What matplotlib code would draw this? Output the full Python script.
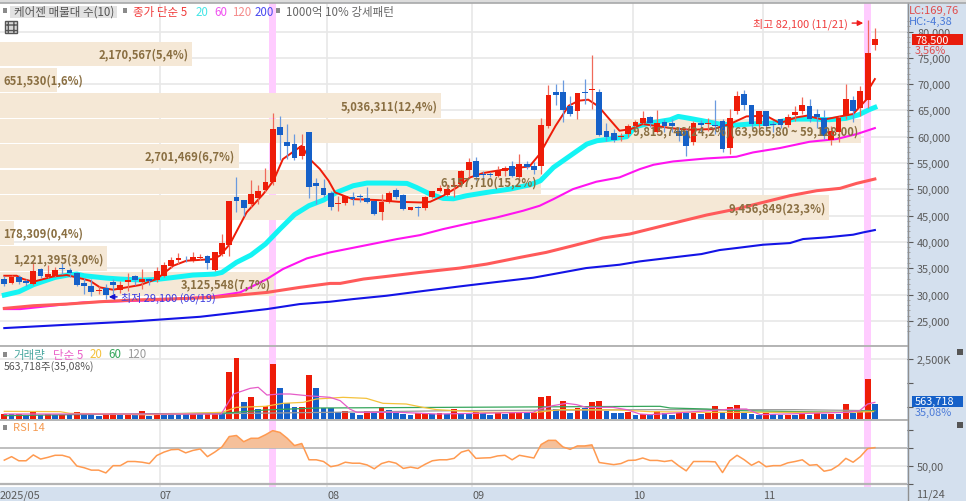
import numpy as np
import matplotlib
matplotlib.use('Agg')
import matplotlib.pyplot as plt
from matplotlib.patches import Rectangle

plt.rcParams['font.family'] = ['Noto Sans CJK KR', 'DejaVu Sans']

# candles, oldest first
opens = [32900, 32100, 33300, 32600, 32000, 34800, 33250, 33550, 34950, 34600, 34000, 32150, 31650, 30700, 31300, 32300, 30800, 32300, 33500, 32450,
         32900, 32800, 33550, 35350, 36600, 36800, 36300, 36850, 37400, 34700, 37700, 39400, 48600, 48000, 47300, 48300, 49850, 51400, 61770, 58900,
         58600, 56400, 60900, 51200, 50250, 49280, 47200, 47320, 48460, 48650, 48330, 47700, 45600, 47630, 49920, 48960, 46120, 46560, 46430, 48590,
         49730, 48960, 50680, 50990, 53720, 55370, 52900, 52900, 52580, 53530, 54360, 52260, 54800, 54360, 54360, 61960, 68430, 68560, 65890, 64940,
         68560, 68800, 68430, 61140, 60630, 60000, 60500, 62090, 62700, 63670, 60950, 62720, 62600, 61130, 61000, 58920, 62600, 62340, 62210, 63040,
         57840, 64810, 68170, 66020, 62400, 64880, 62400, 63350, 62280, 64180, 64880, 65890, 64300, 63540, 59360, 60950, 63860, 66970, 65450, 66970, 77490]
highs = [33450, 33700, 33700, 33000, 36100, 35100, 35600, 35150, 35900, 35100, 34200, 33050, 32950, 31550, 32000, 32950, 32600, 34100, 33700, 34850,
         33050, 35150, 36100, 37050, 37800, 37250, 38100, 37700, 37500, 38150, 41500, 47700, 52300, 48000, 51800, 50800, 54000, 64500, 63860, 62400,
         60500, 60600, 60900, 52100, 51950, 49730, 48780, 48780, 49400, 49100, 50360, 47830, 49100, 49730, 50170, 49100, 46620, 46750, 48780, 49730,
         50800, 50990, 51630, 53720, 55940, 56200, 53400, 53340, 54360, 54360, 55430, 56700, 55310, 55120, 63480, 69890, 70010, 70780, 67800, 68300,
         70960, 75530, 69060, 62600, 61460, 60700, 62410, 63170, 64900, 64000, 65130, 63350, 63350, 61770, 61450, 63040, 63230, 63480, 67030, 63350,
         65260, 68740, 68930, 66020, 64940, 64940, 63040, 63350, 64300, 65890, 67600, 67150, 65260, 65000, 62100, 63990, 70000, 67790, 69600, 82100, 80600]
lows = [31700, 32000, 32000, 31550, 31800, 33100, 33100, 33250, 33900, 33250, 31650, 30100, 29800, 30100, 29100, 30100, 30300, 30750, 31800, 31050,
        31850, 32300, 33250, 35000, 35800, 36100, 36100, 36600, 34850, 34500, 37250, 37250, 45600, 45000, 46600, 47200, 49400, 50900, 55550, 55750,
        55600, 55750, 48300, 47200, 48460, 46050, 45920, 47000, 47000, 47630, 47400, 45100, 44220, 47380, 48140, 46050, 46000, 44970, 46120, 48330,
        49410, 48780, 48460, 50360, 52260, 51820, 51630, 52260, 52260, 52580, 52260, 51630, 53850, 52900, 52900, 61580, 66020, 62720, 64000, 63360,
        66210, 65260, 60060, 59240, 59050, 59240, 59870, 60820, 62400, 61770, 60690, 60820, 60800, 59230, 56380, 58470, 60820, 61130, 60500, 57140,
        56700, 64310, 65130, 61570, 61450, 61130, 60820, 61700, 61770, 63040, 64310, 62720, 61580, 59500, 58500, 59040, 63350, 62720, 63990, 65500, 76400]
closes = [31950, 33250, 32300, 32100, 34400, 33450, 33850, 34700, 34800, 34100, 31900, 31550, 30500, 30900, 29900, 31800, 31900, 32700, 32750, 32900,
          32550, 34400, 35600, 36600, 36850, 36700, 37100, 37100, 36050, 38000, 39800, 47700, 47800, 46400, 49200, 49700, 51450, 61465, 60310, 58150,
          55950, 58300, 50350, 50700, 49000, 46560, 47400, 48650, 48250, 48460, 47500, 45230, 47500, 49280, 48460, 46240, 46620, 46370, 48460, 49600,
          50230, 50040, 50870, 53400, 55120, 52260, 52700, 52700, 53660, 54100, 52580, 54800, 54290, 53720, 62220, 67990, 67990, 65130, 64310, 68300,
          68240, 69060, 60320, 60000, 59360, 60100, 62090, 62720, 63550, 62530, 62700, 61960, 62100, 60060, 58280, 62530, 62210, 62590, 62020, 57650,
          63540, 67670, 66020, 62400, 64810, 62090, 62200, 62280, 63670, 64750, 65950, 63350, 63670, 60060, 61130, 63540, 67160, 64810, 68620, 75840, 78500]

# volume in thousands of shares
volume = [222, 194, 208, 167, 292, 181, 194, 167, 181, 167, 292, 250, 194, 139, 194, 264, 194, 208, 181, 333,
          139, 250, 245, 208, 194, 190, 208, 194, 264, 268, 208, 1945, 2542, 694, 903, 417, 528, 2292, 1278, 653,
          486, 490, 1833, 1278, 472, 470, 278, 347, 236, 181, 347, 264, 500, 389, 236, 222, 153, 236, 240, 194,
          264, 208, 417, 264, 262, 306, 236, 153, 250, 222, 306, 310, 236, 264, 903, 972, 417, 736, 264, 472,
          470, 694, 750, 347, 236, 234, 278, 181, 208, 206, 347, 236, 181, 250, 248, 252, 208, 236, 528, 306,
          486, 569, 236, 194, 153, 264, 194, 181, 183, 181, 236, 181, 236, 222, 224, 222, 639, 264, 278, 1653, 620]

rsi = [56.5, 60.4, 55.8, 55.8, 62.3, 57.7, 59.6, 61.9, 61.9, 59.6, 50, 48.1, 45.4, 45.4, 42.3, 50.4, 50.4, 55, 55, 54.2,
       52.7, 61.6, 65.4, 68.1, 68.5, 64.6, 67.3, 68.9, 60.4, 65.4, 71.2, 82.7, 83.9, 77, 80.8, 80.8, 84.7, 89.3, 87.3, 80.8,
       72.7, 75, 56.9, 56.9, 55, 49.2, 50.8, 54.2, 53.1, 53.1, 51.2, 46.9, 52.7, 55, 53.1, 47.3, 48.8, 47.3, 51.9, 55.8,
       56.9, 56.9, 58.5, 65.4, 67.7, 58.5, 58.9, 59.2, 61.2, 61.9, 56.9, 61.9, 60.4, 58.9, 73.9, 78.5, 78.5, 71.2, 68.5, 72.3,
       72.3, 73.5, 53.9, 52.7, 51.5, 52.7, 56.2, 56.5, 58.9, 56.2, 56.2, 55, 56.2, 50, 44.6, 55, 55, 55, 54.6, 42.7,
       55.8, 61.9, 56.9, 50.8, 55, 49.2, 50.4, 50.4, 53.5, 55, 56.9, 50.8, 51.5, 44.2, 45.8, 50.8, 58.5, 54.2, 60.4, 69.3, 70.4]

# moving averages, as (bar index, value)
ma5_x = [0, 1.7, 2.6, 4, 6.8, 8.6, 10.9, 11.8, 13.2, 15, 16, 18.7, 21, 23.3, 25.1, 28.8, 29.7, 31.1, 33.4, 35.7, 37.1, 38.4, 41, 42.1, 43.5, 44.7,
         45.6, 48, 51.5, 54.3, 57.4, 58.7, 60.5, 62.4, 64.2, 66, 68.7, 72.4, 73.8, 76, 77.8, 79.2, 80.5, 81.9, 83.2, 84.8, 86.4, 88, 92.2, 94.5, 97.7,
         100, 102.3, 105, 106.9, 109.2, 110.6, 112.9, 115.2, 117, 118.9, 119.3, 120]
ma5_y = [33570, 33570, 32940, 32430, 33450, 33700, 32940, 32620, 31350, 30910, 31160, 31800, 32940, 35475, 36425, 36740, 37380, 39600, 45620, 49100, 51640, 55746, 58280, 55746, 53850, 51630,
         49410, 48140, 47950, 47630, 47500, 47630, 48780, 50360, 52260, 53090, 53720, 54360, 56700, 62090, 65890, 66850, 67040, 65770, 63670, 61140, 61460, 62410, 61580, 61330, 61450,
         62400, 63860, 63990, 62590, 63670, 63990, 63230, 63860, 64310, 67160, 69370, 70960]
ma20_x = [0, 2, 4, 7, 9, 10, 11, 14, 16, 19, 21, 23, 26, 29, 30, 32, 34, 36, 38, 40, 42, 44, 45.8, 48.1, 50, 52.7, 55.5, 56.8, 58.7, 60.5, 61.9, 63.7,
          66.5, 69.7, 72.5, 73.9, 75.7, 78, 80.3, 81.7, 83.5, 85.8, 87, 89, 91.8, 92.9, 94.5, 96.7, 98.6, 100.9, 102.7, 105.9, 107.3, 109.1, 111.4, 113.7, 116, 117.8, 119.2, 120]
ma20_y = [29896, 30530, 31860, 33255, 33760, 33890, 33570, 33130, 32940, 32750, 32870, 33190, 33700, 33890, 34200, 36110, 37500, 39600, 42450, 45180, 46890, 47960, 49410, 50680, 51190, 51190, 51120, 50360, 49090, 48270, 48200, 48780,
          49410, 50040, 50870, 51630, 54160, 56380, 58600, 59240, 59550, 60000, 61900, 62590, 63230, 63860, 63480, 62910, 62400, 62210, 62400, 62590, 62970, 63350, 63350, 63230, 63480, 64180, 65130, 65570]
ma60_x = [0, 2.2, 10.9, 21.5, 28.8, 32.5, 36.2, 38.4, 41.7, 44.9, 54.1, 57.3, 60.5, 64.2, 67.9, 71.5, 73.8, 75.7, 78.4, 81.6, 84.8, 87.6, 89.5, 92.2, 96.8, 100.9, 103.2, 106.9, 111, 114.7, 117.5, 120]
ma60_y = [27233, 27233, 28500, 28940, 29640, 30400, 32940, 34840, 36870, 38010, 40535, 41290, 42440, 43580, 44655, 45920, 46875, 48140, 50045, 51440, 52265, 53840, 54670, 55300, 55870, 56190, 57010, 57840, 59040, 59550, 60500, 61640]
ma120_x = [0, 4, 8.6, 13.2, 17.8, 22.4, 28.8, 36.2, 40.7, 44.9, 46.3, 49.5, 52.7, 57.3, 62.8, 66.5, 71.1, 74.7, 78.4, 82.5, 86.2, 89.9, 93.6, 96.8, 100.9, 104.6, 108.3, 112, 115.2, 117.5, 120]
ma120_y = [27360, 27870, 28180, 28630, 28950, 29130, 29450, 30400, 31350, 32110, 32115, 32940, 33445, 34200, 35030, 35790, 37060, 38010, 39280, 40740, 41500, 42764, 44032, 45110, 46250, 47519, 48787, 49738, 50182, 51133, 51957]
ma200_x = [0, 8.6, 17.8, 27, 36.2, 40.7, 44.9, 48.1, 52.7, 57.3, 62.8, 67.4, 72.9, 75.7, 80.2, 84.8, 87.6, 92.2, 96.1, 98.6, 100.9, 104.6, 108.3, 110.1, 113.3, 117, 118.4, 120]
ma200_y = [23620, 24250, 24890, 25770, 27230, 28180, 28630, 29135, 29770, 30593, 31545, 32305, 33190, 33890, 35030, 35665, 36300, 37058, 37692, 38453, 38833, 39467, 39784, 40545, 40862, 41370, 41813, 42257]

vol5_x = [0, 29.9, 31.6, 33.9, 35, 36.2, 38, 39.4, 41.7, 44.9, 46.3, 47.6, 48.6, 54.5, 59.6, 72.9, 73.8, 75.6, 77.5, 78.9, 80.2, 83.9, 85.8, 87.6, 89, 90.4, 100.5, 102.3, 104.2, 116.1, 117.9, 119, 120]
vol5_y = [208, 208, 1042, 1278, 1320, 1000, 1042, 1042, 972, 903, 764, 417, 278, 278, 208, 278, 417, 556, 653, 597, 486, 486, 389, 208, 181, 208, 417, 417, 181, 278, 347, 625, 694]
vol20_x = [0, 7.7, 9, 20, 30, 32, 36, 38.4, 41.2, 43, 46.7, 49.9, 52.2, 55.4, 57.7, 59.6, 66.5, 73.4, 76.6, 84.8, 89, 96.8, 115.2, 119.8]
vol20_y = [319, 306, 236, 181, 278, 486, 528, 653, 694, 833, 903, 861, 653, 625, 486, 389, 278, 278, 389, 375, 306, 278, 278, 306]
vol60_x = [0, 9, 30.6, 36, 43, 89, 90.4, 91.8, 96.8, 101.4, 115.2, 120]
vol60_y = [139, 181, 250, 375, 458, 528, 528, 458, 417, 347, 278, 347]
vol120_x = [17.8, 44.9, 61.9, 89, 103, 109, 120]
vol120_y = [181, 278, 347, 389, 389, 389, 347]

# volume-by-price bands
band_low = [73350, 68500, 63600, 58850, 54050, 49100, 44150, 39400, 34550, 29800]
band_high = [78000, 73150, 68300, 63450, 58700, 53750, 48950, 43950, 39200, 34350]
band_pct = [5.4, 1.6, 12.4, 24.2, 6.7, 15.2, 23.3, 0.4, 3.0, 7.7]
band_labels = ['2,170,567(5,4%)', '651,530(1,6%)', '5,036,311(12,4%)', '9,815,746(24,2%)(63,965,80 ~ 59,128,00)',
               '2,701,469(6,7%)', '6,157,710(15,2%)', '9,456,849(23,3%)', '178,309(0,4%)', '1,221,395(3,0%)', '3,125,548(7,7%)']

month_pos = [-0.59, 21.46, 44.5, 64.5, 86.7, 104.6]
month_labels = ['2025/05', '07', '08', '09', '10', '11']
signal_bars = [37, 119]

W, H = 966, 502
PANEL = '#d4e0ee'
GRID = '#e8e8e8'
SEP = '#b4b4b4'
RED = '#ee1c08'
BLUE = '#1560c8'
TICK = '#5a5a5a'
BAND = '#f5e8d6'
BROWN = '#8a6f42'

x = np.arange(len(closes))
xlim = (-0.593, 124.43)
px_per_pct = 35.6
px_per_bar = 7.255


def add_pane(top, bottom):
    a = fig.add_axes([0, 1 - bottom / H, 907 / W, (bottom - top) / H])
    a.set_xlim(*xlim)
    for s in a.spines.values():
        s.set_visible(False)
    a.yaxis.tick_right()
    a.set_xticks([])
    a.tick_params(axis='y', colors=TICK, labelsize=7.9, length=4, width=0.8, pad=3.2)
    for m in month_pos[1:]:
        a.axvline(m, color=GRID, lw=1.2, zorder=0)
    for b in signal_bars:
        a.axvspan(b - 0.5, b + 0.5, color='#ffccff', lw=0, zorder=0.5)
    return a


def label(px, py, s, **kw):
    kw.setdefault('va', 'center')
    kw.setdefault('fontsize', 8.3)
    fig.text(px / W, 1 - py / H, s, zorder=12, **kw)


def box(px0, py0, px1, py1, **kw):
    fig.add_artist(Rectangle((px0 / W, 1 - py1 / H), (px1 - px0) / W, (py1 - py0) / H,
                             transform=fig.transFigure, zorder=11, lw=0, **kw))


fig = plt.figure(figsize=(W / 100, H / 100), dpi=100, facecolor=PANEL)

# price pane
ax = add_pane(4, 346)
ax.set_ylim(80000 - (346 - 32.5) * 190.1, 80000 + 28.5 * 190.1)
price_ticks = np.arange(25000, 80001, 5000)
ax.set_yticks(price_ticks)
ax.set_yticklabels([f'{p:,}' for p in price_ticks])
ax.set_yticks(np.arange(23000, 82001, 1000), minor=True)
ax.tick_params(axis='y', which='minor', colors='#9a9a9a', length=2, width=0.6)
for p in price_ticks:
    ax.axhline(p, color=GRID, lw=1.2, zorder=0)

ax.barh([(a + b) / 2 for a, b in zip(band_low, band_high)],
        np.array(band_pct) * px_per_pct / px_per_bar,
        height=[b - a for a, b in zip(band_low, band_high)],
        left=xlim[0], color=BAND, lw=0, zorder=1)

ax.plot(ma200_x, ma200_y, color='#1414e6', lw=1.5, zorder=3)
ax.plot(ma60_x, ma60_y, color='#ff14f0', lw=1.5, zorder=3)
ax.plot(ma120_x, ma120_y, color='#ff5a5a', lw=2.2, zorder=3)
ax.plot(ma20_x, ma20_y, color='#14f4f4', lw=3.6, zorder=3)
ax.plot(ma5_x, ma5_y, color='#ee1c08', lw=1.4, zorder=3.5)

up = np.array(closes) >= np.array(opens)
ax.vlines(x[up], np.array(lows)[up], np.array(highs)[up], color='#f06a5a', lw=0.9, zorder=4)
ax.vlines(x[~up], np.array(lows)[~up], np.array(highs)[~up], color='#6a9adf', lw=0.9, zorder=4)
bottoms = np.minimum(opens, closes)
heights = np.maximum(np.abs(np.array(closes) - np.array(opens)), 130)
ax.bar(x, heights, bottom=bottoms, width=0.8, color=[RED if u else BLUE for u in up], lw=0, zorder=5)

for low, high, pct, text in zip(band_low, band_high, band_pct, band_labels):
    mid = (low + high) / 2
    end = xlim[0] + pct * px_per_pct / px_per_bar
    if pct < 2:
        ax.text(xlim[0] + 0.45, mid, text, color=BROWN, fontsize=8.1, fontweight='bold', ha='left', va='center', zorder=6)
    else:
        ax.text(end - 0.5, mid, text, color=BROWN, fontsize=8.1, fontweight='bold', ha='right', va='center', zorder=6)

hi_i = int(np.argmax(highs))
lo_i = int(np.argmin(lows))
ax.annotate('최고 82,100 (11/21)', xy=(hi_i - 0.6, 81600), xytext=(-11, 0), textcoords='offset points',
            color='#f03c3c', fontsize=7.9, ha='right', va='center', zorder=7,
            arrowprops=dict(arrowstyle='-|>', color='#f01c1c', lw=1, shrinkA=1, shrinkB=0))
ax.annotate('최저 29,100 (06/19)', xy=(lo_i + 0.4, 29550), xytext=(9, 0), textcoords='offset points',
            color='#3c3ce0', fontsize=7.9, ha='left', va='center', zorder=7,
            arrowprops=dict(arrowstyle='-|>', color='#1414d0', lw=1, shrinkA=1, shrinkB=0))

# volume pane
av = add_pane(347, 420)
av.set_ylim(0, 3042)
av.set_yticks([500, 1500, 2500])
av.set_yticklabels(['', '', '2,500K'])
av.axhline(2500, color=GRID, lw=1.2, zorder=0)
vol_up = [True] + [volume[i] >= volume[i - 1] for i in range(1, len(volume))]
av.bar(x, volume, width=0.8, color=[RED if u else BLUE for u in vol_up], lw=0, zorder=3)
av.plot(vol120_x, vol120_y, color='#9a9a9a', lw=0.9, zorder=4)
av.plot(vol60_x, vol60_y, color='#35a55a', lw=0.9, zorder=4)
av.plot(vol20_x, vol20_y, color='#f4c23c', lw=0.9, zorder=4)
av.plot(vol5_x, vol5_y, color='#e65cc8', lw=0.9, zorder=4)

# rsi pane
ar = add_pane(421, 488)
ar.set_ylim(50 - 21 / 0.9, 50 + 46 / 0.9)
ar.set_yticks([30, 50, 70, 90])
ar.set_yticklabels(['', '50,00', '', ''])
ar.axhline(50, color=GRID, lw=1.2, zorder=0)
ar.axhline(70, color=SEP, lw=1.2, zorder=1)
ar.fill_between(x, rsi, 70, where=np.array(rsi) >= 70, interpolate=True, color='#f5c09a', lw=0, zorder=2)
ar.plot(x, rsi, color='#ff9a50', lw=1.1, zorder=3)
ar.axhline(30, color=SEP, lw=1.6, zorder=4)
ar.set_xticks(month_pos)
ar.set_xticklabels(month_labels, ha='left', fontsize=7.9, color=TICK)
ar.tick_params(axis='x', length=0, pad=2)

# pane separators and frame
for y_sep in [346.5, 420.8]:
    fig.add_artist(plt.Line2D([0, 907 / W], [1 - y_sep / H] * 2, color=SEP, lw=1.4, zorder=10))
fig.add_artist(plt.Line2D([907.5 / W] * 2, [0, 1 - 4 / H], color='#8f8f8f', lw=1, zorder=10))
fig.add_artist(plt.Line2D([0, 1], [1 - 3.5 / H] * 2, color='#a8a8a8', lw=1.2, zorder=10))

# header
box(0, 0, 966, 3, color='#dcdcdc')
box(3, 9, 7, 14, color='#8a8a8a')
box(10, 7, 117, 19, color='#e2e2e2')
label(14, 12.5, '케어젠 매물대 수(10)', color='#555555')
box(123, 9, 127, 14, color='#8a8a8a')
label(133, 12.5, '종가 단순 5', color='#f03c3c')
label(196, 12.5, '20', color='#46e6e6')
label(214, 12.5, '60', color='#f050f0')
label(232, 12.5, '120', color='#f58c8c')
label(255, 12.5, '200', color='#4a4af0')
box(276, 9, 280, 14, color='#8a8a8a')
label(286, 12.5, '1000억 10% 강세패턴', color='#666666')
fig.add_artist(Rectangle((5 / W, 1 - 34 / H), 12 / W, 12 / H, transform=fig.transFigure, zorder=11,
                         facecolor='#d8d8d8', edgecolor='#555555', lw=1, hatch='+++'))

# pane captions
box(3, 353, 7, 358, color='#8a8a8a')
label(13, 355, '거래량', color='#4aa8a0')
label(53, 355, '단순 5', color='#ea60c8')
label(90, 355, '20', color='#f4c23c')
label(108, 355, '60', color='#35a55a')
label(127, 355, '120', color='#9a9a9a')
label(4, 366.5, '563,718주(35,08%)', color='#555555', fontsize=7.6)
box(3, 426, 7, 431, color='#8a8a8a')
label(13, 428, 'RSI 14', color='#f59a50', fontsize=8)

# right side readouts
label(909, 11, 'LC:169,76', color='#e04c4c', fontsize=8)
label(909, 22, 'HC:-4,38', color='#4a7ad8', fontsize=8)
box(911.5, 35, 963, 45.7, color='#e81c0c')
label(915, 40.5, '78,500', color='white', fontsize=7.9)
label(915, 51, '3,56%', color='#e04c4c', fontsize=7.9)
box(911.5, 396.5, 963, 407.5, color='#1560c8')
label(915, 402, '563,718', color='white', fontsize=7.9)
label(915, 413, '35,08%', color='#4a7ad8', fontsize=7.9)
label(916, 495, '11/24', color=TICK, fontsize=7.9)
box(957, 350, 963, 356, color='#555555')
box(957, 423, 963, 429, color='#555555')

fig.savefig('out.png', dpi=100, facecolor=fig.get_facecolor())
